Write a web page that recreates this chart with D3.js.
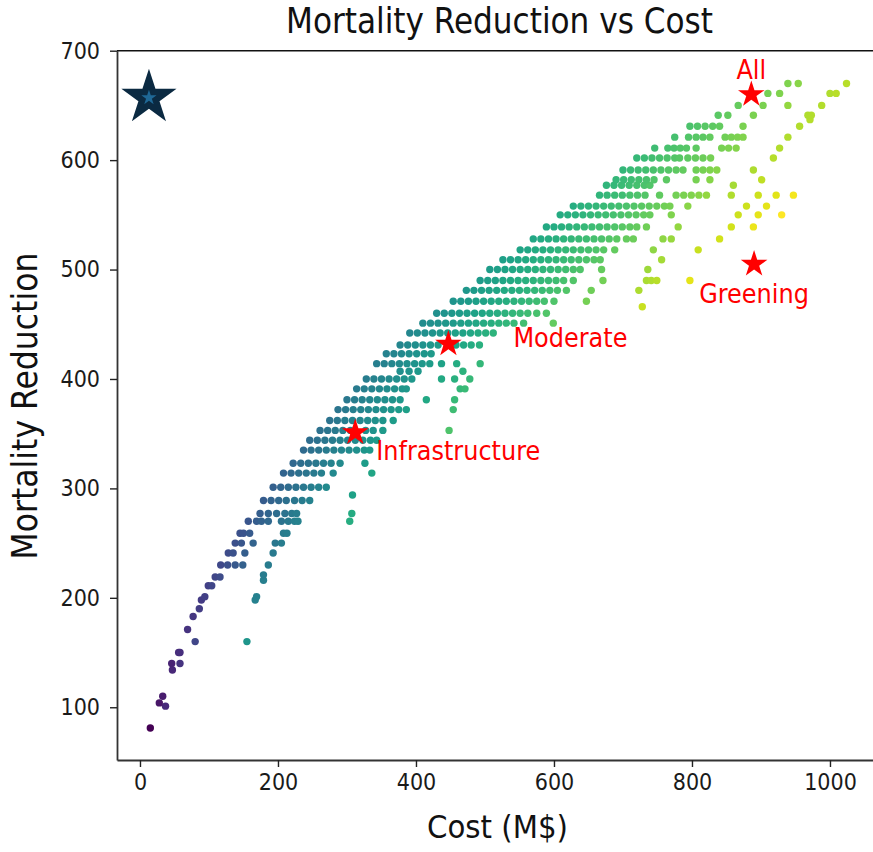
<!DOCTYPE html>
<html><head><meta charset="utf-8">
<script src="https://cdn.jsdelivr.net/npm/d3@7"></script>
<style>body{margin:0;background:#fff}svg{display:block}</style>
</head><body>
<svg id="chart" width="873" height="852"></svg>
<script>
// ---- data ----
const rowReduction = [81,101,104,110,134,140,150,160,171,183,190,198,201,211,216,219,221,230,241,250,259,270,277,289,294,301,314,323,335,344,353,362,372,381,391,400,407,414,423,431,442,451,460,466,471,481,490,500,509,518,528,539,550,558,568,577,582,591,602,611,621,631,637,641,650,661,670];
const rowCosts = [
[15],[37],[28],[33],[47],[46,58],[56,58],[80,155],[69],[77],[86],[89,167],[94,169],[99,104],[179],[109,116],[179],
[117,127,138,149,186],
[128,135,152,193],
[138,147,164,196,205],
[145,150,159,208,213],
[157,169,176,186,205,215,224,229,304],
[174,186,198,210,220,227,307],
[179,190,201,212,224,235,246],
[308],
[193,204,215,226,237,248,259,270],
[208,219,230,241,252,263,280,336],
[222,233,244,255,266,277,290,326],
[237,248,259,270,281,292,303,314,325,333],
[246,257,268,279,290,301,312,323,334,343],
[261,272,283,294,305,327,338,352,448],
[275,286,297,308,319,330,341,352,367],
[287,298,309,320,331,342,353,364,375,386,454],
[300,311,322,333,344,355,366,377,415,456],
[314,325,336,347,358,369,380,386,464,471],
[328,339,350,361,372,383,394,437,456,478],
[377,390,403,468],
[343,354,365,376,387,398,409,420,437,459,493],
[357,368,379,390,401,412,422],
[377,388,399,410,421,432,458,469,480,492],
[391,402,413,424,435,446,457,468,479,490,501,512],
[410,421,432,443,454,465,476,487,498,509,520,531,542,556,599],
[430,441,452,463,474,485,496,507,518,529,540,551,562,575,589],
[728],
[454,465,476,487,498,509,520,531,542,553,564,575,586,600,647],
[473,484,495,506,517,528,539,550,561,572,583,594,605,618,654,723],
[493,504,515,526,537,548,559,570,581,592,603,614,628,671,734,741,749,797],
[507,518,529,540,551,562,573,584,595,606,617,628,638,669,736],
[526,537,548,559,570,581,592,603,614,625,636,647,658,667,756],
[551,562,573,584,595,606,617,628,639,650,661,672,688,744,809],
[570,581,592,603,614,625,636,647,658,669,680,691,705,715,758,770,840],
[589,600,611,622,633,644,655,666,677,688,699,710,720,734,780,857,889],
[609,620,631,642,653,664,675,686,697,708,719,730,739,770,867,896,930],
[628,639,650,661,672,683,694,705,716,727,738,749,760,768,794,879,908],
[666,677,688,699,710,721,732,753,777,788,799,810,821,857,896,922,947],
[676,687,698,709,720,731,739,860],
[690,701,712,723,734,745,763,806,826,901],
[700,711,722,733,744,755,766,777,787,806,816,826,836,889],
[720,731,742,753,764,775,782,794,805,816,827,918],
[746,765,774,783,792,806,843,853,864,927],
[775,795,806,816,826,848,857,866,874,939],
[797,808,819,830,840,874,956],
[971],
[838,852,889,968,973],
[867,903,939,988],
[910,927,1000,1009],
[939,954,1024]
];
const markerNames = ["Infrastructure","Moderate","All","Greening"];
const markerCost = [312, 447, 886, 890];
const markerReduction = [351, 432, 660, 505];
const idealCost = [13];
const idealReduction = [657];
const xTicks = [0,200,400,600,800,1000];
const yTicks = [100,200,300,400,500,600,700];
const xDomain = [-33.3, 1075.4];
const yDomain = [51.8, 700];
const titleText = "Mortality Reduction vs Cost";
const xLabelText = "Cost (M$)";
const yLabelText = "Mortality Reduction";

// ---- build ----
const points = [];
rowReduction.forEach((r,i) => rowCosts[i].forEach(c => points.push({cost:c, red:r})));

const FONT = "'DejaVu Sans Condensed','DejaVu Sans',sans-serif";
const svg = d3.select("#chart");
const m = {left:117, right:882, top:50.7, bottom:760};
const x = d3.scaleLinear().domain(xDomain).range([m.left, m.right]);
const y = d3.scaleLinear().domain(yDomain).range([m.bottom, m.top]);
const ratio = d => d.cost / d.red;
const color = d3.scaleSequential(d3.interpolateViridis).domain(d3.extent(points, ratio));

function fitText(sel, target){
  const w = sel.node().getComputedTextLength();
  const fs = parseFloat(sel.attr("font-size"));
  sel.attr("font-size", (fs*target/w).toFixed(2));
}

// points
svg.append("g").selectAll("circle").data(points).join("circle")
  .attr("cx", d => x(d.cost)).attr("cy", d => y(d.red))
  .attr("r", 3.7).attr("fill", d => color(ratio(d)));

// axes
const gx = svg.append("g").attr("transform", `translate(0,${m.bottom})`)
  .call(d3.axisBottom(x).tickValues(xTicks).tickSize(7).tickSizeOuter(0).tickPadding(7).tickFormat(d3.format("d")));
const gy = svg.append("g").attr("transform", `translate(${m.left},0)`)
  .call(d3.axisLeft(y).tickValues(yTicks).tickSize(7).tickSizeOuter(0).tickPadding(10).tickFormat(d3.format("d")));
[gx, gy].forEach(g => {
  g.select(".domain").attr("stroke", "#333").attr("stroke-width", 1.8);
  g.selectAll(".tick line").attr("stroke", "#222").attr("stroke-width", 1.4);
  g.selectAll(".tick text").attr("font-family", FONT).attr("font-size", 23).attr("fill", "#1a1a1a");
});
svg.append("line").attr("x1", m.left).attr("x2", m.right).attr("y1", m.top).attr("y2", m.top)
  .attr("stroke", "#111").attr("stroke-width", 1.6);
svg.append("line").attr("x1", m.right).attr("x2", m.right).attr("y1", m.top).attr("y2", m.bottom)
  .attr("stroke", "#111").attr("stroke-width", 1.6);

// star helper
const starPath = R => d3.symbol().type(d3.symbolStar).size(R*R/0.8908130915292852)();

// red stars
const markers = markerNames.map((n,i) => ({name:n, cost:markerCost[i], red:markerReduction[i]}));
svg.append("g").selectAll("path").data(markers).join("path")
  .attr("d", starPath(14)).attr("fill", "#ff0000")
  .attr("transform", d => `translate(${x(d.cost)},${y(d.red)})`);

// ideal star
const ideal = idealCost.map((c,i) => ({cost:c, red:idealReduction[i]}));
const gi = svg.append("g").selectAll("g").data(ideal).join("g")
  .attr("transform", d => `translate(${x(d.cost)},${y(d.red)})`);
gi.append("path").attr("d", starPath(29)).attr("fill", "#0b2a42");
gi.append("path").attr("d", starPath(8)).attr("fill", "#1f6896");

// labels
const labelOffsets = {Infrastructure:[21,27,"start"], Moderate:[65,3,"start"], All:[0,-15,"middle"], Greening:[0,39,"middle"]};
const labels = svg.append("g").selectAll("text").data(markers).join("text")
  .attr("x", d => x(d.cost) + labelOffsets[d.name][0])
  .attr("y", d => y(d.red) + labelOffsets[d.name][1])
  .attr("text-anchor", d => labelOffsets[d.name][2])
  .attr("font-family", FONT).attr("font-size", 20).attr("fill", "#ff0000")
  .text(d => d.name);
const infra = labels.filter(d => d.name === "Infrastructure");
const w0 = infra.node().getComputedTextLength();
labels.attr("font-size", (20*164/w0).toFixed(2));

// title & axis labels
const title = svg.append("text").attr("x", 499.5).attr("y", 33).attr("text-anchor", "middle")
  .attr("font-family", FONT).attr("font-size", 27).attr("fill", "#111").text(titleText);
fitText(title, 427);
const xl = svg.append("text").attr("x", 497.5).attr("y", 838).attr("text-anchor", "middle")
  .attr("font-family", FONT).attr("font-size", 26).attr("fill", "#111").text(xLabelText);
fitText(xl, 141);
const yl = svg.append("text").attr("transform", "translate(37,406) rotate(-90)").attr("text-anchor", "middle")
  .attr("font-family", FONT).attr("font-size", 26).attr("fill", "#111").text(yLabelText);
fitText(yl, 307);
</script>
</body></html>
